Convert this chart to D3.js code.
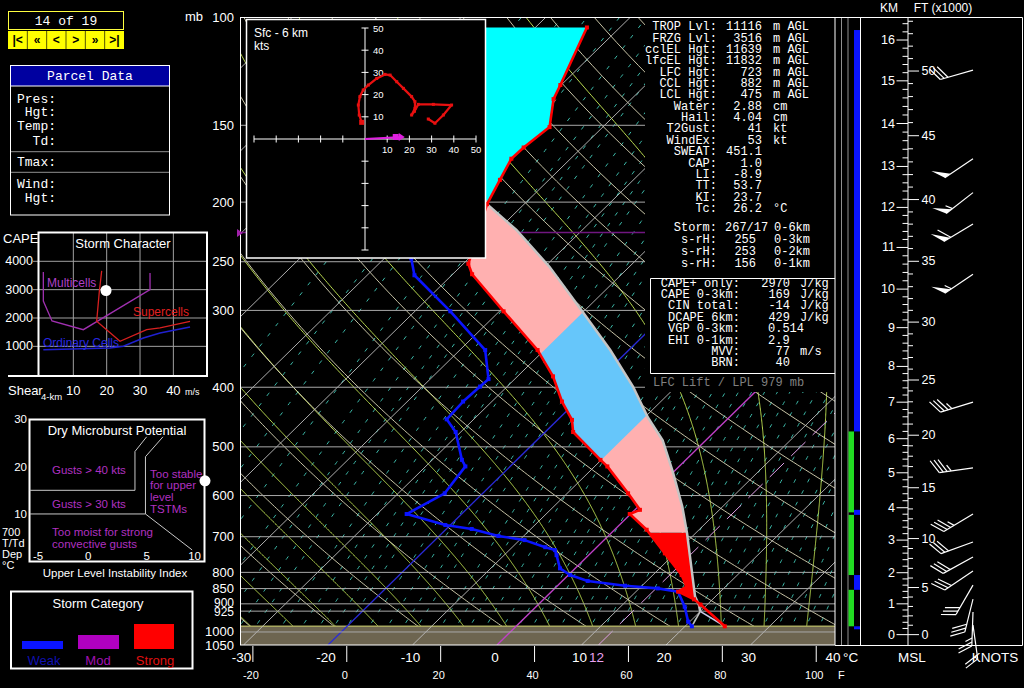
<!DOCTYPE html>
<html><head><meta charset="utf-8">
<script src="https://cdn.jsdelivr.net/npm/d3@7"></script>
<style>body{margin:0;background:#000;}svg{display:block;}</style>
</head><body><script>
// ================= DATA =================
const pressureTicks=[100,150,200,250,300,400,500,600,700,800,850,900,925,1000,1050];
const isobars=[150,200,250,300,400,500,600,700,800,850,900,925,1000];
const tempTicksC=[-30,-20,-10,0,10,20,30,40];
const tempTicksF=[-20,0,20,40,60,80,100];
const isotherms=[-110,-100,-90,-80,-70,-60,-50,-40,-30,-20,-10,0,10,20,30,40];
const dryAdiabats=[-40,-30,-20,-10,0,10,20,30,40,50,60,70,80,90,100,110,120,130,140,150,160,170,180,190];
const moistAdiabats=[-40,-35,-30,-25,-20,-15,-10,-5,0,5,10,15,20,25,30,35,40,45];
const mixingRatios=[0.02,0.04,0.06,0.1,0.15,0.2,0.25,0.3,0.4,0.5,0.6,0.7,0.8,1,1.2,1.4,1.6,2,2.3,2.6,3,3.5,4,4.5,5,5.7,6.5,7.3,8.2,9.2,10.3,11.5,12.8,14.3,16,17.8,19.8,22,24.4,27,30,33,36.5,40,44,48];
const surfaceP=979;
const tropP=224;
const envP=[979,902.5,885,860,844,808,745,682,643,633,595,538,525,473,452,422,384,348,301,262,252,201.5,184,170,163,151,136,129,104];
const envT=[24.7,19.2,17.8,15.0,15.4,13.4,8.8,3.8,-0.1,0.6,-2.8,-8.5,-10.1,-16.7,-18.3,-21.7,-25.8,-30.8,-39.5,-47.7,-49.4,-54.4,-55.8,-57.0,-56.9,-56.3,-59.2,-60.1,-63.9];
const dewP=[979,962,910,860,849.5,841,826,808,788,750,736,728,709,698,680,670,643,595,538,525,473,451,422,399,388,348,301,263,247];
const dewT=[20.8,19.8,17.6,15.0,12.2,8.0,3.0,0.2,-1.8,-3.8,-4.6,-6.1,-9.4,-13.0,-17.0,-20.6,-26.5,-24.5,-25.3,-26.5,-30.6,-33.2,-33.4,-33.2,-33.1,-37.0,-45.8,-54.4,-56.8];
const parcelP=[979,926,902.5,876,802,691,625,549,488,448,399,348,301,255,222,201.5,180,150,125,104];
const parcelT=[24.7,20.0,19.0,17.6,14.4,9.0,5.2,-0.1,-5.1,-9.6,-15.1,-22.2,-30.2,-39.4,-47.8,-54.4,-59.5,-66,-72,-78];
const lclP=926, lfcP=895, threeKmP=690, elP=201.5, topP=104;
const hailZone=[-10,-30];
const hodoU=[-1.5,-2.6,-3.0,-2.3,-0.8,1.5,5.3,9.0,11.3,14.3,17.3,21.0,22.5,22.5,21.0,22.3,24.0,30.8,39.0,35.3,31.5,28.5];
const hodoV=[7.5,10.8,15.3,19.1,22.1,24.3,27.3,29.1,28.8,25.8,22.8,19.1,16.8,13.8,10.8,12.5,15.6,15.6,15.3,10.8,7.1,9.0];
const hodoTicks=[-50,-40,-30,-20,-10,10,20,30,40,50];
const stormMotion=[17,0.9];
const windP=[122,170,193,217,262,423,541,643,714,755,796,839,884,928,975];
const windDir=[254,236,232,239,236,253,262,239,250,241,236,210,194,182,172];
const windSpd=[30,50,55,60,55,35,35,35,30,30,30,30,30,25,20];
const kmLevels=[0,1,2,3,4,5,6,7,8,9,10,11,12,13,14,15,16];
const kmP=[1010,900,801,709,628,551,485,423,370,320,277,237,204,175,149,127,109];
const ftLabels=[0,5,10,15,20,25,30,35,40,45,50];
const blueSegs=[[105,472],[633,645],[808,854],[979,990]];
const greenSegs=[[472,639],[645,808],[854,979]];
const indexLabels=["TROP Lvl:","FRZG Lvl:","cclEL Hgt:","lfcEL Hgt:","LFC Hgt:","CCL Hgt:","LCL Hgt:","Water:","Hail:","T2Gust:","WindEx:","SWEAT:","CAP:","LI:","TT:","KI:","Tc:"];
const indexValues=["11116","3516","11639","11832","723","882","475","2.88","4.04","41","53","451.1","1.0","-8.9","53.7","23.7","26.2"];
const indexUnits=["m AGL","m AGL","m AGL","m AGL","m AGL","m AGL","m AGL","cm","cm","kt","kt","","","","","","°C"];
const srLabels=["Storm:","s-rH:","s-rH:","s-rH:"];
const srValues=["267/17","255","253","156"];
const srLayers=["0-6km","0-3km","0-2km","0-1km"];
const capeLabels=["CAPE+ only:","CAPE 0-3km:","CIN total:","DCAPE 6km:","VGP 0-3km:","EHI 0-1km:","MVV:","BRN:"];
const capeValues=["2970","169","-14","429","0.514","2.9","77","40"];
const capeUnits=["J/kg","J/kg","J/kg","J/kg","","","m/s",""];
const scShearTicks=[10,20,30,40];
const scCapeTicks=[1000,2000,3000,4000];
const multiShear=[1,1,3.6,13,33,33], multiCape=[3625,2600,1896,1588,3000,3590];
const superShear=[18.5,17.8,17,20.5,24,32,36,45], superCape=[3660,2944,1885,1532,1179,1588,1648,1885];
const ordShear=[1,21,25,31,36,45], ordCape=[882,942,1002,1295,1472,1684];
const stormPoint=[19.8,2970];
const mbLine40=[[-5,15],[4,15],[4,23.2],[5,26.3]];
const mbLine30=[[-5,10],[4.9,10],[4.9,22.1],[6.4,26.3]];
const mbLineDiag=[[4.9,10],[8.9,2.4]];
const mbPoint=[10,17];
const mbYTicks=[10,20,30];
const mbXTicks=[-5,0,5,10];
const navButtons=["|<","«","<",">","»",">|"];
const parcelLabels=["Pres:","Hgt:","Temp:","Td:","Tmax:","Wind:","Hgt:"];

// ================= SETUP =================
const SANS="'Liberation Sans',Arial,sans-serif", MONO="'Liberation Mono','DejaVu Sans Mono',monospace";
const svg=d3.select('body').append('svg').attr('width',1024).attr('height',688);
svg.append('rect').attr('width',1024).attr('height',688).attr('fill','#000');
const defs=svg.append('defs');
function txt(g,x,y,s,o={}){
  return g.append('text').attr('x',x).attr('y',y).text(s)
   .attr('fill',o.fill||'#fff').attr('font-size',o.size||13)
   .attr('text-anchor',o.anchor||'start').attr('dominant-baseline','central')
   .attr('font-family',o.mono?MONO:SANS).attr('font-weight',o.weight||'normal');
}
const yP=d3.scaleLog().domain([100,1050]).range([17,645]);
const xT=d3.scaleLinear().domain([-30,40]).range([243.5,835]);
const SKEW=1.02, YB=645;
const sx=(T,p)=>xT(T)+(YB-yP(p))*SKEW;
const pline=d3.line().x(d=>sx(d[1],d[0])).y(d=>yP(d[0]));
function interp(P,T){
  const idx=d3.range(P.length).sort((a,b)=>P[a]-P[b]);
  const s=d3.scaleLinear().domain(idx.map(i=>Math.log(P[i]))).range(idx.map(i=>T[i])).clamp(true);
  return p=>s(Math.log(p));
}
const envAt=interp(envP,envT), parAt=interp(parcelP,parcelT);
defs.append('clipPath').attr('id','plotClip').append('rect').attr('x',240).attr('y',17).attr('width',595).attr('height',628);
const plot=svg.append('g').attr('clip-path','url(#plotClip)');
const pSteps=d3.range(1050,99,-5);

// mixing ratio lines
mixingRatios.forEach(w=>{
  const pts=pSteps.map(p=>{const e=w*p/(622+w);const l=Math.log(e/6.112);return [p,243.5*l/(17.67-l)];});
  plot.append('path').attr('d',pline(pts)).attr('fill','none').attr('stroke','#3cb8a8').attr('stroke-width',1).attr('stroke-dasharray','4,9');
});
// moist adiabats
function lapse(T,p){const Tc=T-273.15;const es=6.112*Math.exp(17.67*Tc/(Tc+243.5));const rs=0.622*es/(p-es);
  return (287.04*T+2.501e6*rs)/(p*(1005.7+(2.501e6*2.501e6*rs*0.622)/(287.04*T*T)));}
moistAdiabats.forEach(t0=>{
  const up=[];let T=t0+273.15;
  for(let p=1000;p>=100;p-=2){up.push([p,T-273.15]);const k1=lapse(T,p);const k2=lapse(T-2*k1,p-2);T-=(k1+k2);}
  const dn=[];T=t0+273.15;
  for(let p=1000;p<=1050;p+=2){dn.push([p,T-273.15]);const k1=lapse(T,p);T+=2*k1;}
  const pts=dn.reverse().concat(up.slice(1));
  plot.append('path').attr('d',pline(pts)).attr('fill','none').attr('stroke','#b8d850').attr('stroke-width',1);
});
// dry adiabats
dryAdiabats.forEach(th=>{
  const pts=pSteps.map(p=>[p,(th+273.15)*Math.pow(p/1000,0.2857)-273.15]);
  plot.append('path').attr('d',pline(pts)).attr('fill','none').attr('stroke','#dcd8b8').attr('stroke-width',0.9);
});
// ground
plot.append('rect').attr('x',240).attr('y',yP(surfaceP)).attr('width',595).attr('height',645-yP(surfaceP)).attr('fill','#6d6550');
plot.append('line').attr('x1',240).attr('x2',835).attr('y1',yP(surfaceP)).attr('y2',yP(surfaceP)).attr('stroke','#a8a860').attr('stroke-width',1.5);
// isotherms
isotherms.forEach(t=>{
  let col='#c0c0c0',w=0.9;
  if(t===0){col='#c040c8';w=1.3;} if(t===-20){col='#2a2ad8';w=1.3;}
  plot.append('path').attr('d',pline([[1050,t],[100,t]])).attr('fill','none').attr('stroke',col).attr('stroke-width',w);
});
plot.append('path').attr('d',pline([[1050,12],[100,12]])).attr('fill','none').attr('stroke','#e0a0e8').attr('stroke-width',1).attr('stroke-dasharray','20,10');
// isobars
isobars.forEach(p=>{
  plot.append('line').attr('x1',240).attr('x2',835).attr('y1',yP(p)).attr('y2',yP(p)).attr('stroke','#a8a8a8').attr('stroke-width',1);
});
// tropopause
plot.append('line').attr('x1',240).attr('x2',835).attr('y1',yP(tropP)).attr('y2',yP(tropP)).attr('stroke','#701680').attr('stroke-width',1.5);

// CAPE fills
function areaPts(pB,pT){
  const ps=Array.from(new Set([pB,pT,...envP.filter(p=>p<pB&&p>pT),...parcelP.filter(p=>p<pB&&p>pT)])).sort((a,b)=>b-a);
  const right=ps.map(p=>[sx(parAt(p),p),yP(p)]);
  const left=ps.map(p=>[sx(envAt(p),p),yP(p)]).reverse();
  return right.concat(left);
}
const poly=d3.line();
plot.append('path').attr('d',poly(areaPts(lfcP,threeKmP))+'Z').attr('fill','#ff0000');
const pinkD=poly(areaPts(threeKmP,elP))+'Z';
plot.append('path').attr('d',pinkD).attr('fill','#ffb0b0');
defs.append('clipPath').attr('id','posClip').append('path').attr('d',pinkD);
const bandPts=[[sx(hailZone[0],1050),yP(1050)],[sx(hailZone[0],100),yP(100)],[sx(hailZone[1],100),yP(100)],[sx(hailZone[1],1050),yP(1050)]];
plot.append('g').attr('clip-path','url(#posClip)').append('path').attr('d',poly(bandPts)+'Z').attr('fill','#66c6fa');
plot.append('path').attr('d',poly(areaPts(elP,topP))+'Z').attr('fill','#00ffff');

// parcel
const parcelPts=parcelP.map((p,i)=>[p,parcelT[i]]);
plot.append('path').attr('d',pline(parcelPts.filter(d=>d[0]<=lclP))).attr('fill','none').attr('stroke','#c4c4c4').attr('stroke-width',2.5);
plot.append('path').attr('d',pline(parcelPts.filter(d=>d[0]>=lclP))).attr('fill','none').attr('stroke','#c8c8e8').attr('stroke-width',1.6);
plot.append('path').attr('d',pline([[dewP[0],dewT[0]],[lclP,parAt(lclP)]])).attr('fill','none').attr('stroke','#c0c0c0').attr('stroke-width',1.6);
// environment
const envPts=envP.map((p,i)=>[p,envT[i]]);
const dewPts=dewP.map((p,i)=>[p,dewT[i]]);
plot.append('path').attr('d',pline(dewPts)).attr('fill','none').attr('stroke','#0a14ff').attr('stroke-width',2.6).attr('stroke-linejoin','round');
dewPts.forEach(d=>plot.append('rect').attr('x',sx(d[1],d[0])-2).attr('y',yP(d[0])-2).attr('width',4).attr('height',4).attr('fill','#0a14ff'));
plot.append('path').attr('d',pline(envPts)).attr('fill','none').attr('stroke','#ff0000').attr('stroke-width',2.6).attr('stroke-linejoin','round');
envPts.forEach(d=>plot.append('rect').attr('x',sx(d[1],d[0])-2).attr('y',yP(d[0])-2).attr('width',4).attr('height',4).attr('fill','#ff0000'));

// text panel
const FS=12;
svg.append('rect').attr('x',645).attr('y',18).attr('width',190).attr('height',374).attr('fill','#000');
indexLabels.forEach((l,i)=>{
  const y=27.3+i*11.35;
  txt(svg,717,y,l,{mono:1,size:FS,anchor:'end'});
  txt(svg,762,y,indexValues[i],{mono:1,size:FS,anchor:'end'});
  if(indexUnits[i]) txt(svg,773,y,indexUnits[i],{mono:1,size:FS});
});
srLabels.forEach((l,i)=>{
  const y=228.3+i*11.9;
  txt(svg,717,y,l,{mono:1,size:FS,anchor:'end'});
  if(i===0) txt(svg,725,y,srValues[i],{mono:1,size:FS});
  else txt(svg,756,y,srValues[i],{mono:1,size:FS,anchor:'end'});
  txt(svg,774,y,srLayers[i],{mono:1,size:FS});
});
svg.append('polyline').attr('points','835,278.5 650.5,278.5 650.5,373.5 835,373.5').attr('fill','none').attr('stroke','#fff').attr('stroke-width',1);
capeLabels.forEach((l,i)=>{
  const y=283.5+i*11.4;
  txt(svg,740,y,l,{mono:1,size:FS,anchor:'end'});
  const v=capeValues[i];
  if(v.indexOf('.')>=0) txt(svg,768,y,v,{mono:1,size:FS});
  else txt(svg,790,y,v,{mono:1,size:FS,anchor:'end'});
  if(capeUnits[i]) txt(svg,800,y,capeUnits[i],{mono:1,size:FS});
});
txt(svg,653,382.5,"LFC Lift / LPL 979 mb",{mono:1,size:FS,fill:'#808080'});

// hodograph
const hx=d3.scaleLinear().domain([-50,50]).range([254,476]);
const hy=d3.scaleLinear().domain([-50,50]).range([250,28]);
const hod=svg.append('g');
hod.append('rect').attr('x',246.5).attr('y',19.5).attr('width',239).attr('height',238.5).attr('fill','#000').attr('stroke','#fff').attr('stroke-width',1.5);
hod.append('line').attr('x1',hx(-50)).attr('x2',hx(50)).attr('y1',hy(0)).attr('y2',hy(0)).attr('stroke','#fff');
hod.append('line').attr('x1',hx(0)).attr('x2',hx(0)).attr('y1',hy(50)).attr('y2',hy(-50)).attr('stroke','#fff');
hodoTicks.forEach(t=>{
  hod.append('line').attr('x1',hx(t)).attr('x2',hx(t)).attr('y1',hy(0)-3.5).attr('y2',hy(0)+3.5).attr('stroke','#fff');
  hod.append('line').attr('x1',hx(0)-3.5).attr('x2',hx(0)+3.5).attr('y1',hy(t)).attr('y2',hy(t)).attr('stroke','#fff');
  if(t>0){txt(hod,hx(t),hy(0)+10,String(t),{size:9.5,anchor:'middle'});txt(hod,hx(0)+8,hy(t),String(t),{size:9.5});}
});
txt(hod,254,33,"Sfc - 6 km",{size:12});
txt(hod,254,46,"kts",{size:12});
const hodoPts=hodoU.map((u,i)=>[hx(u),hy(hodoV[i])]);
hod.append('path').attr('d',d3.line()(hodoPts)).attr('fill','none').attr('stroke','#e81010').attr('stroke-width',2.2).attr('stroke-linejoin','round');
hodoPts.forEach((d,i)=>hod.append('rect').attr('x',d[0]-1.5).attr('y',d[1]-1.5).attr('width',3).attr('height',3).attr('fill','#e81010'));
hod.append('rect').attr('x',hodoPts[0][0]-2.5).attr('y',hodoPts[0][1]-2.5).attr('width',5).attr('height',5).attr('fill','#e81010');
hod.append('line').attr('x1',hx(0)).attr('y1',hy(0)).attr('x2',hx(stormMotion[0])).attr('y2',hy(stormMotion[1])).attr('stroke','#e020e0').attr('stroke-width',2);
hod.append('rect').attr('x',hx(stormMotion[0])-10).attr('y',hy(stormMotion[1])-3).attr('width',6).attr('height',6).attr('fill','#e020e0');
hod.append('path').attr('d',`M${hx(stormMotion[0])-4},${hy(stormMotion[1])-4}L${hx(stormMotion[0])+2},${hy(stormMotion[1])}L${hx(stormMotion[0])-4},${hy(stormMotion[1])+4}Z`).attr('fill','#e020e0');

// plot border and axes
svg.append('rect').attr('x',240.5).attr('y',17.5).attr('width',594.5).attr('height',627.5).attr('fill','none').attr('stroke','#fff').attr('stroke-width',1);
pressureTicks.forEach(p=>txt(svg,234,yP(p)+(p===900?-1:(p===925?1:0)),String(p),{anchor:'end',size:(p===900||p===925)?12:13}));
txt(svg,185,16,"mb",{size:13});
svg.append('path').attr('d','M237,229L243,233L237,237Z').attr('fill','#a020a8');
const FtoC=f=>(f-32)*5/9;
tempTicksF.forEach(f=>{
  const x=xT(FtoC(f));
  svg.append('line').attr('x1',x).attr('x2',x).attr('y1',646).attr('y2',662).attr('stroke','#fff');
  txt(svg,x-2,675,String(f),{size:11,anchor:'middle'});
});
txt(svg,838,675,"F",{size:11});
tempTicksC.forEach(c=>txt(svg,xT(c)-2,657,String(c),{size:13.5,anchor:'middle'}));
txt(svg,xT(12)-2,657,"12",{size:13.5,anchor:'middle',fill:'#e8a0f0'});
txt(svg,843,657,"°C",{size:13.5});

// right strip
const rs=svg.append('g');
[[841.5,'#909090'],[848,'#909090']].forEach(d=>rs.append('line').attr('x1',d[0]).attr('x2',d[0]).attr('y1',17).attr('y2',645).attr('stroke',d[1]));
blueSegs.forEach(s=>rs.append('rect').attr('x',854).attr('width',6).attr('y',yP(s[0])).attr('height',yP(s[1])-yP(s[0])).attr('fill','#0a14ff'));
greenSegs.forEach(s=>rs.append('rect').attr('x',848.5).attr('width',5.5).attr('y',yP(s[0])).attr('height',yP(s[1])-yP(s[0])).attr('fill','#22dd22'));
rs.append('line').attr('x1',860.5).attr('x2',860.5).attr('y1',17).attr('y2',645).attr('stroke','#fff');
rs.append('polyline').attr('points','835,17.5 1022.5,17.5 1022.5,645.5 835,645.5').attr('fill','none').attr('stroke','#fff');
const kmY=d3.scaleLinear().domain(kmLevels).range(kmP.map(p=>yP(p)));
rs.append('line').attr('x1',908).attr('x2',908).attr('y1',17).attr('y2',645).attr('stroke','#fff');
d3.range(0,16.5,0.2).forEach(k=>{
  const y=kmY(k); if(y<19) return;
  const major=Math.abs(k-Math.round(k))<0.01;
  rs.append('line').attr('x1',major?896.5:902.5).attr('x2',908).attr('y1',y).attr('y2',y).attr('stroke','#fff');
  if(major) txt(rs,895,y,String(Math.round(k)),{size:12.5,anchor:'end'});
});
d3.range(0,55,1).forEach(f=>{
  const y=kmY(f*0.3048); if(y<19) return;
  const major=f%5===0;
  rs.append('line').attr('x1',908).attr('x2',major?919:913).attr('y1',y).attr('y2',y).attr('stroke','#fff');
});
ftLabels.forEach(f=>txt(rs,921.5,kmY(f*0.3048),String(f),{size:12.5}));
txt(rs,889,8,"KM",{size:12,anchor:'middle'});
txt(rs,943,8,"FT (x1000)",{size:12,anchor:'middle'});
txt(rs,912,657,"MSL",{size:13.5,anchor:'middle'});
txt(rs,995,657,"KNOTS",{size:13.5,anchor:'middle'});
// wind barbs
function barb(g,x0,y0,dir,spd){
  const L=34,r=dir*Math.PI/180,d=[Math.sin(r),-Math.cos(r)],pp=[-d[1],d[0]];
  const tail=[x0+d[0]*L,y0+d[1]*L];
  const fv=[pp[0]*0.87+d[0]*0.5,pp[1]*0.87+d[1]*0.5],fl=15;
  g.append('line').attr('x1',x0).attr('y1',y0).attr('x2',tail[0]).attr('y2',tail[1]).attr('stroke','#fff').attr('stroke-width',1.2);
  let s=Math.round(spd/5)*5,pos=0;
  const at=k=>[tail[0]-d[0]*k,tail[1]-d[1]*k];
  while(s>=50){const a=at(pos),b=at(pos+7);g.append('path').attr('d',`M${a[0]},${a[1]}L${a[0]+fv[0]*fl},${a[1]+fv[1]*fl}L${b[0]},${b[1]}Z`).attr('fill','#fff');pos+=8;s-=50;}
  while(s>=10){const a=at(pos);g.append('line').attr('x1',a[0]).attr('y1',a[1]).attr('x2',a[0]+fv[0]*fl).attr('y2',a[1]+fv[1]*fl).attr('stroke','#fff').attr('stroke-width',1.2);pos+=4;s-=10;}
  if(s>=5){if(pos===0)pos=4;const a=at(pos);g.append('line').attr('x1',a[0]).attr('y1',a[1]).attr('x2',a[0]+fv[0]*fl*0.5).attr('y2',a[1]+fv[1]*fl*0.5).attr('stroke','#fff').attr('stroke-width',1.2);}
}
windP.forEach((p,i)=>barb(rs,973,yP(p),windDir[i],windSpd[i]));

// ---- left panels ----
const lp=svg.append('g');
lp.append('rect').attr('x',8.5).attr('y',11.5).attr('width',115).attr('height',18).attr('fill','#000').attr('stroke','#ffff40');
txt(lp,66,21,"14 of 19",{mono:1,size:13,anchor:'middle'});
lp.append('rect').attr('x',8).attr('y',31).attr('width',116).attr('height',18).attr('fill','#ffff00');
navButtons.forEach((b,i)=>{
  const bw=116/6;
  if(i>0) lp.append('line').attr('x1',8+i*bw).attr('x2',8+i*bw).attr('y1',31).attr('y2',49).attr('stroke','#555500');
  txt(lp,8+bw*(i+0.5),40,b,{size:12,anchor:'middle',fill:'#000',weight:'bold'});
});
lp.append('rect').attr('x',10.5).attr('y',65.5).attr('width',159).attr('height',149.5).attr('fill','#000').attr('stroke','#fff');
lp.append('rect').attr('x',11).attr('y',66).attr('width',158).attr('height',20).attr('fill','#0000a0');
lp.append('line').attr('x1',11).attr('x2',169).attr('y1',86).attr('y2',86).attr('stroke','#fff');
txt(lp,90,76,"Parcel Data",{mono:1,size:13,anchor:'middle'});
const plY=[99,112.7,126.7,141.3,162.7,184,198.7];
parcelLabels.forEach((l,i)=>txt(lp,56,plY[i],l,{mono:1,size:13,anchor:'end'}));
[151.7,172.3].forEach(y=>lp.append('line').attr('x1',11).attr('x2',169).attr('y1',y).attr('y2',y).attr('stroke','#909090'));

// storm character
const scx=d3.scaleLinear().domain([0,50]).range([40,206.7]);
const scy=d3.scaleLinear().domain([0,4000]).range([374.7,261.3]);
const sc=svg.append('g');
scShearTicks.forEach(s=>sc.append('line').attr('x1',scx(s)).attr('x2',scx(s)).attr('y1',232).attr('y2',376).attr('stroke','#a0a0a0'));
scCapeTicks.forEach(c=>{sc.append('line').attr('x1',33).attr('x2',207).attr('y1',scy(c)).attr('y2',scy(c)).attr('stroke','#a0a0a0');
  txt(sc,33,scy(c),String(c),{size:12.5,anchor:'end'});});
sc.append('polyline').attr('points','38.5,376 38.5,232.5 207,232.5 207,376').attr('fill','none').attr('stroke','#fff').attr('stroke-width',2);
sc.append('line').attr('x1',8).attr('x2',208).attr('y1',376).attr('y2',376).attr('stroke','#fff').attr('stroke-width',2);
const scl=d3.line().x(d=>scx(d[0])).y(d=>scy(d[1]));
sc.append('path').attr('d',scl(multiShear.map((s,i)=>[s,multiCape[i]]))).attr('fill','none').attr('stroke','#a030b0').attr('stroke-width',1.3);
sc.append('path').attr('d',scl(superShear.map((s,i)=>[s,superCape[i]]))).attr('fill','none').attr('stroke','#d82020').attr('stroke-width',1.3);
sc.append('path').attr('d',scl(ordShear.map((s,i)=>[s,ordCape[i]]))).attr('fill','none').attr('stroke','#2020d0').attr('stroke-width',1.5);
txt(sc,47,283,"Multicells",{size:12,fill:'#b040c8'});
txt(sc,133,312,"Supercells",{size:12,fill:'#e02020'});
txt(sc,43,343,"Ordinary Cells",{size:12,fill:'#2828e0'});
sc.append('circle').attr('cx',scx(stormPoint[0])).attr('cy',scy(stormPoint[1])).attr('r',5.5).attr('fill','#fff');
txt(sc,3,238,"CAPE",{size:13});
txt(sc,123,243,"Storm Character",{size:13,anchor:'middle'});
txt(sc,8,390,"Shear",{size:13});
txt(sc,41,396,"4-km",{size:9.5});
scShearTicks.forEach(s=>txt(sc,scx(s),390,String(s),{size:13,anchor:'middle'}));
txt(sc,185,392,"m/s",{size:9});

// dry microburst
const mbx=d3.scaleLinear().domain([-5,10]).range([29.9,205]);
const mby=d3.scaleLinear().domain([0,30]).range([561.3,419.3]);
const mb=svg.append('g');
mb.append('rect').attr('x',29.5).attr('y',419.5).attr('width',175).attr('height',142).attr('fill','#000').attr('stroke','#fff').attr('stroke-width',2);
const mbl=d3.line().x(d=>mbx(d[0])).y(d=>mby(d[1]));
[mbLine40,mbLine30,mbLineDiag].forEach(l=>mb.append('path').attr('d',mbl(l)).attr('fill','none').attr('stroke','#c8c8c8').attr('stroke-width',1));
mbYTicks.forEach(v=>txt(mb,27,mby(v),String(v),{size:11.5,anchor:'end'}));
mbXTicks.forEach((u,i)=>txt(mb,i===0?33:(i===3?201:mbx(u)),556,String(u),{size:11.5,anchor:i===0?'start':(i===3?'end':'middle')}));
txt(mb,117,430,"Dry Microburst Potential",{size:13,anchor:'middle'});
const PUR='#b030c0';
txt(mb,52,470,"Gusts > 40 kts",{size:11.5,fill:PUR});
txt(mb,52,504,"Gusts > 30 kts",{size:11.5,fill:PUR});
txt(mb,52,531.5,"Too moist for strong",{size:11.5,fill:PUR});
txt(mb,52,543.5,"convective gusts",{size:11.5,fill:PUR});
["Too stable","for upper","level","TSTMs"].forEach((s,i)=>txt(mb,150,473.5+i*11.8,s,{size:11.5,fill:PUR}));
mb.append('circle').attr('cx',mbx(mbPoint[0])).attr('cy',mby(mbPoint[1])).attr('r',5.5).attr('fill','#fff');
["700","T/Td","Dep","°C"].forEach((s,i)=>txt(mb,2,531.5+i*11.2,s,{size:11}));
txt(mb,115,573,"Upper Level Instability Index",{size:11.5,anchor:'middle'});

// storm category
const cat=svg.append('g');
cat.append('rect').attr('x',11).attr('y',591.5).attr('width',181.5).attr('height',77).attr('fill','#000').attr('stroke','#fff').attr('stroke-width',2);
txt(cat,98,603,"Storm Category",{size:13,anchor:'middle'});
cat.append('rect').attr('x',22).attr('y',641).attr('width',41).attr('height',8).attr('fill','#0a14ff');
cat.append('rect').attr('x',78).attr('y',635).attr('width',41).attr('height',14).attr('fill','#b000c0');
cat.append('rect').attr('x',134).attr('y',624).attr('width',40).attr('height',25).attr('fill','#ff0000');
txt(cat,44,660,"Weak",{size:13,anchor:'middle',fill:'#1010b0'});
txt(cat,98,660,"Mod",{size:13,anchor:'middle',fill:'#a010b0'});
txt(cat,155,660,"Strong",{size:13,anchor:'middle',fill:'#e01010'});
</script></body></html>
